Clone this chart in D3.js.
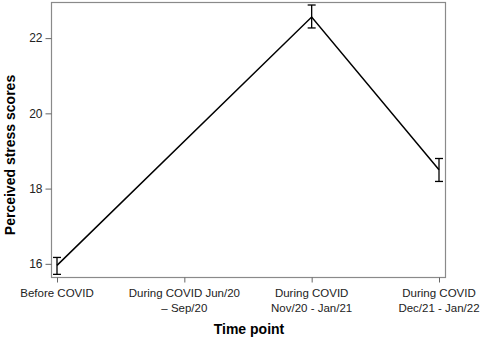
<!DOCTYPE html>
<html>
<head>
<meta charset="utf-8">
<script src="https://cdn.jsdelivr.net/npm/d3@7"></script>
<style>
  body { margin: 0; background: #fff; }
  text { font-family: "Liberation Sans", Arial, sans-serif; }
</style>
</head>
<body>
<div id="container"></div>
<script>
// data
let timePoints = [
  ["Before COVID"],
  ["During COVID Jun/20", "\u2013 Sep/20"],
  ["During COVID", "Nov/20 - Jan/21"],
  ["During COVID", "Dec/21 - Jan/22"]
];
let means = [15.96, null, 22.56, 18.5];
let lower = [15.72, null, 22.27, 18.19];
let upper = [16.17, null, 22.88, 18.8];
let yTicks = [16, 18, 20, 22];

let w = 480;
let h = 340;

let viz = d3.select("#container")
  .append("svg")
    .attr("width", w)
    .attr("height", h)
;

let xScale = d3.scaleLinear().domain([0, 3]).range([57, 439]);
let yScale = d3.scaleLinear().domain([15.65, 22.96]).range([277, 2]);

// frame
viz.append("rect")
  .attr("x", 51.5)
  .attr("y", 2.5)
  .attr("width", 394)
  .attr("height", 275)
  .attr("fill", "none")
  .attr("stroke", "#8a8a8a")
  .attr("stroke-width", 1.2)
;

// y axis
let yAxis = d3.axisLeft(yScale).tickValues(yTicks).tickSize(6).tickPadding(3);
let yAxisGroup = viz.append("g")
  .attr("transform", "translate(51.5,0)")
  .call(yAxis);
yAxisGroup.select(".domain").remove();
yAxisGroup.selectAll("line").attr("stroke", "#666");
yAxisGroup.selectAll("text")
  .attr("font-size", 12)
  .attr("fill", "#222")
  .style("font-family", "Liberation Sans, Arial, sans-serif");

// x axis
let xAxis = d3.axisBottom(xScale).tickValues([0, 1, 2, 3]).tickSize(5).tickFormat("");
let xAxisGroup = viz.append("g")
  .attr("transform", "translate(0,277.5)")
  .call(xAxis);
xAxisGroup.select(".domain").remove();
xAxisGroup.selectAll("line").attr("stroke", "#666");

// multi-line category labels
let labelGroup = viz.append("g");
labelGroup.selectAll(".cat").data(timePoints).enter()
  .append("text")
    .attr("class", "cat")
    .attr("x", function(d, i){ return xScale(i); })
    .attr("y", 297)
    .attr("text-anchor", "middle")
    .attr("font-size", 11.5)
    .attr("fill", "#222")
    .each(function(d){
      let t = d3.select(this);
      d.forEach(function(line, j){
        t.append("tspan")
          .attr("x", t.attr("x"))
          .attr("dy", j == 0 ? 0 : 15)
          .text(line);
      });
    })
;

// line through the observed points only
let pts = means.map(function(m, i){
  return { i: i, m: m, lo: lower[i], hi: upper[i] };
}).filter(function(d){ return d.m != null; });

let lineMaker = d3.line()
  .x(function(d){ return xScale(d.i); })
  .y(function(d){ return yScale(d.m); })
;

viz.append("path")
  .datum(pts)
  .attr("d", lineMaker)
  .attr("fill", "none")
  .attr("stroke", "#000")
  .attr("stroke-width", 1.5)
;

// error bars
let eb = viz.append("g").attr("stroke", "#000").attr("stroke-width", 1.3);
eb.selectAll(".vbar").data(pts).enter()
  .append("line")
    .attr("x1", function(d){ return xScale(d.i); })
    .attr("x2", function(d){ return xScale(d.i); })
    .attr("y1", function(d){ return yScale(d.lo); })
    .attr("y2", function(d){ return yScale(d.hi); })
;
[ "lo", "hi" ].forEach(function(k){
  eb.selectAll(".cap-" + k).data(pts).enter()
    .append("line")
      .attr("x1", function(d){ return xScale(d.i) - 4; })
      .attr("x2", function(d){ return xScale(d.i) + 4; })
      .attr("y1", function(d){ return yScale(d[k]); })
      .attr("y2", function(d){ return yScale(d[k]); })
  ;
});

// axis titles
viz.append("text")
  .attr("x", 249)
  .attr("y", 334)
  .attr("text-anchor", "middle")
  .attr("font-size", 14)
  .attr("font-weight", "bold")
  .text("Time point");

viz.append("text")
  .attr("transform", "translate(15,155) rotate(-90)")
  .attr("text-anchor", "middle")
  .attr("font-size", 14)
  .attr("font-weight", "bold")
  .text("Perceived stress scores");
</script>
</body>
</html>
